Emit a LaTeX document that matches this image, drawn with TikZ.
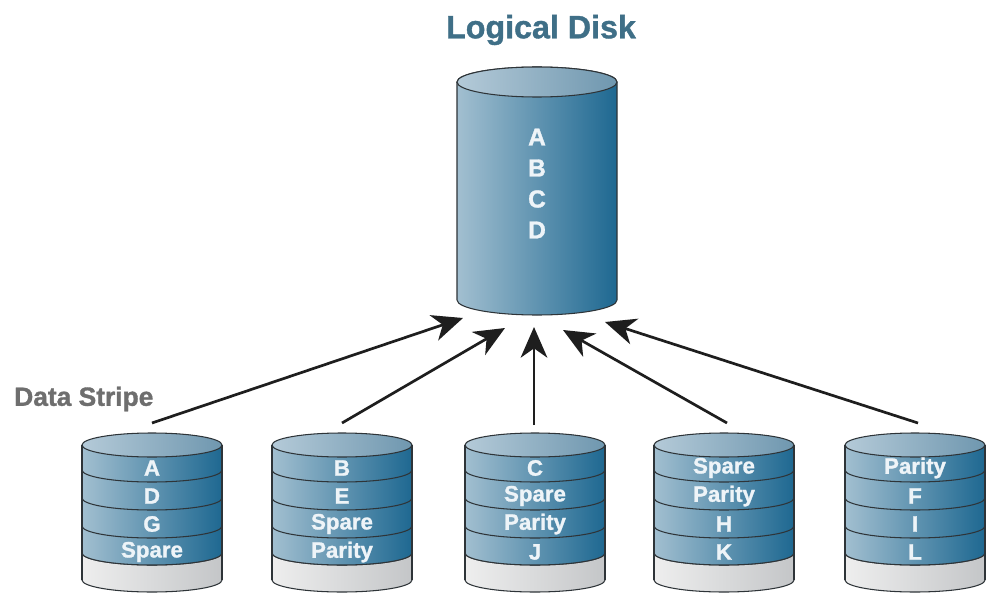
\documentclass[tikz,border=0pt]{standalone}
\usepackage{fontspec}
\setmainfont{Liberation Sans}
\newfontfamily\heavyfont{Liberation Sans}[UprightFont=*-Bold, FakeBold=1.2]
\usetikzlibrary{arrows.meta}

\definecolor{rim}{HTML}{2E3438}
\definecolor{blueL}{HTML}{A2BFD0}
\definecolor{blueR}{HTML}{1E6891}
\definecolor{capL}{HTML}{B4CAD8}
\definecolor{capR}{HTML}{6F97AF}
\definecolor{baseL}{HTML}{EEEEEE}
\definecolor{baseR}{HTML}{C4C6C8}
\definecolor{titleblue}{HTML}{3F6F87}
\definecolor{stripegray}{HTML}{6E6E6E}
\definecolor{labelwhite}{HTML}{EEF4F8}
\definecolor{arrowink}{HTML}{1E1E1E}

\tikzset{
  outline/.style={draw=rim, line width=0.9pt},
  disklabel/.style={text=labelwhite, font=\heavyfont\fontsize{19}{19}\selectfont, inner sep=0pt},
  biglabel/.style={text=labelwhite, font=\heavyfont\fontsize{21}{21}\selectfont, inner sep=0pt},
  feed/.style={draw=arrowink, line width=2.3pt,
    -{Stealth[length=0.92cm,width=0.8cm,inset=0.28cm]}},
  % small striped disk: origin at the centre of its top face
  pics/stackdisk/.style n args={4}{code={
    % grey foot
    \shade[left color=baseL, right color=baseR, outline]
      (-70,108) -- (-70,135)
      arc[start angle=180,end angle=360,x radius=2.1cm,y radius=0.36cm]
      -- (70,108)
      arc[start angle=0,end angle=-180,x radius=2.1cm,y radius=0.36cm] -- cycle;
    % blue body
    \shade[left color=blueL, right color=blueR]
      (-70,0) -- (-70,108)
      arc[start angle=180,end angle=360,x radius=2.1cm,y radius=0.36cm]
      -- (70,0)
      arc[start angle=0,end angle=180,x radius=2.1cm,y radius=0.36cm] -- cycle;
    % stripe boundaries
    \foreach \o in {25,53,81,108}
      \draw[outline] (-70,\o)
        arc[start angle=180,end angle=360,x radius=2.1cm,y radius=0.36cm];
    % top face
    \shade[left color=capL, right color=capR, outline]
      (0,0) ellipse[x radius=2.1cm, y radius=0.36cm];
    % sides
    \draw[outline] (-70,0) -- (-70,135) (70,0) -- (70,135);
    % stripe contents
    \node[disklabel] (-l1) at (0,23) {#1};
    \node[disklabel] (-l2) at (0,51) {#2};
    \node[disklabel] (-l3) at (0,79) {#3};
    \node[disklabel] (-l4) at (0,107) {#4};
  }}
}

\begin{document}
\begin{tikzpicture}[x=0.03cm, y=-0.03cm]
  \useasboundingbox[fill=white] (0,0) rectangle (987,594);

  % title
  \node[text=titleblue, font=\heavyfont\fontsize{27.5}{27.5}\selectfont, inner sep=0pt]
    (title) at (541,30) {Logical Disk};

  % logical disk cylinder
  \shade[left color=blueL, right color=blueR, outline]
    (457,82) -- (457,300)
    arc[start angle=180,end angle=360,x radius=2.4cm,y radius=0.45cm]
    -- (617,82)
    arc[start angle=0,end angle=180,x radius=2.4cm,y radius=0.45cm] -- cycle;
  \shade[left color=capL, right color=capR, outline]
    (537,82) ellipse[x radius=2.4cm, y radius=0.45cm];

  \node[biglabel] (bigA) at (537,137) {A};
  \node[biglabel] (bigB) at (537,168) {B};
  \node[biglabel] (bigC) at (537,199) {C};
  \node[biglabel] (bigD) at (537,230) {D};

  % stripe caption
  \node[text=stripegray, font=\heavyfont\fontsize{22.5}{22.5}\selectfont, inner sep=0pt, anchor=west]
    (stripe) at (14,399) {Data Stripe};

  % member disks
  \pic (d1) at (152,445) {stackdisk={A}{D}{G}{Spare}};
  \pic (d2) at (342,445) {stackdisk={B}{E}{Spare}{Parity}};
  \pic (d3) at (535,445) {stackdisk={C}{Spare}{Parity}{J}};
  \pic (d4) at (724,445) {stackdisk={Spare}{Parity}{H}{K}};
  \pic (d5) at (915,445) {stackdisk={Parity}{F}{I}{L}};

  % arrow end points
  \coordinate (s1) at (152,423);
  \coordinate (s2) at (342,423);
  \coordinate (s3) at (534,425);
  \coordinate (s4) at (727,423);
  \coordinate (s5) at (918,423);
  \coordinate (t1) at (463,318);
  \coordinate (t2) at (505,328);
  \coordinate (t3) at (534,327);
  \coordinate (t4) at (563,330);
  \coordinate (t5) at (605,322);

  \foreach \i in {1,...,5}
    \draw[feed] (s\i) -- (t\i);
\end{tikzpicture}
\end{document}
